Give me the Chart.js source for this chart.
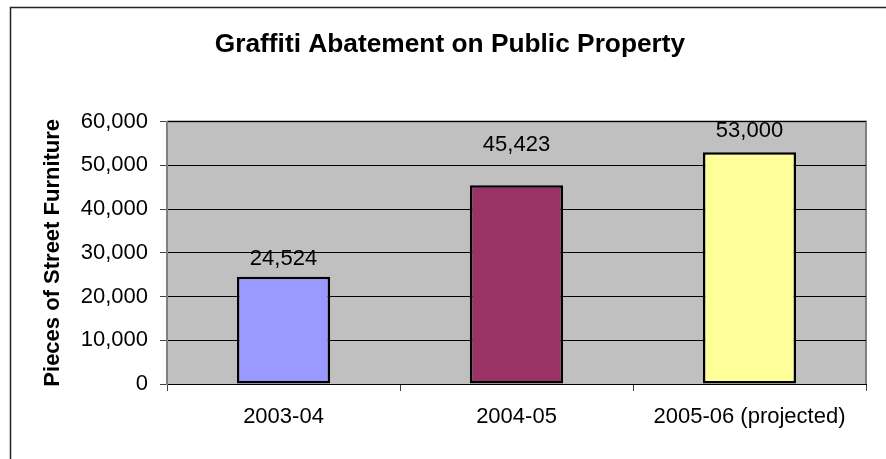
<!DOCTYPE html>
<html>
<head>
<meta charset="utf-8">
<script src="https://cdn.jsdelivr.net/npm/chart.js@4.4.1/dist/chart.umd.min.js"></script>
<style>
  body { margin: 0; background: #fff; }
  canvas { display: block; }
</style>
</head>
<body>
<canvas id="myChart" width="886" height="459"></canvas>
<script>
var years = ['2003-04', '2004-05', '2005-06 (projected)'];
var pieces = [24524, 45423, 53000];
var barColors = ['#9999FF', '#993366', '#FFFF99'];

var FONT = "'Liberation Sans', Arial, sans-serif";
Chart.defaults.color = '#000';
Chart.defaults.font.family = FONT;

function fmt(v) {
  return v.toLocaleString('en-US');
}

// grey plot area, outer frame and the plot's top/right edges
var frame = {
  id: 'frame',
  beforeDraw: function(chart) {
    var c = chart.ctx, a = chart.chartArea;
    c.save();
    c.fillStyle = '#C0C0C0';
    c.fillRect(a.left, a.top, a.right - a.left, a.bottom - a.top);
    c.strokeStyle = '#222';
    c.lineWidth = 1.5;
    c.beginPath();
    c.moveTo(10.5, chart.height + 5);
    c.lineTo(10.5, 7.5);
    c.lineTo(chart.width + 5, 7.5);
    c.stroke();
    c.strokeStyle = '#808080';
    c.lineWidth = 2;
    c.beginPath();
    c.moveTo(a.left, a.top);
    c.lineTo(a.right, a.top);
    c.lineTo(a.right, a.bottom);
    c.stroke();
    c.restore();
  }
};

// value labels above each bar (Excel placed them a bit unevenly)
var lift = [18, 40, 21];
var valueLabels = {
  id: 'valueLabels',
  afterDatasetsDraw: function(chart) {
    var c = chart.ctx;
    var meta = chart.getDatasetMeta(0);
    c.save();
    c.font = '22px ' + FONT;
    c.fillStyle = '#000';
    c.textAlign = 'center';
    c.textBaseline = 'middle';
    meta.data.forEach(function(bar, i) {
      c.fillText(fmt(pieces[i]), bar.x, bar.y - lift[i]);
    });
    c.restore();
  }
};

var ctx = document.getElementById('myChart').getContext('2d');
var myChart = new Chart(ctx, {
  type: 'bar',
  data: {
    labels: years,
    datasets: [{
      data: pieces,
      backgroundColor: barColors,
      borderColor: '#000',
      borderWidth: 2.5,
      borderSkipped: false,
      barPercentage: 0.4,
      categoryPercentage: 1
    }]
  },
  options: {
    responsive: false,
    animation: false,
    layout: { padding: { left: 34, right: 20, top: 0, bottom: 0 } },
    scales: {
      x: {
        offset: true,
        grid: {
          offset: true,
          drawOnChartArea: false,
          tickLength: 7,
          tickColor: '#404040'
        },
        border: { color: '#000', width: 1 },
        ticks: { font: { size: 22 }, padding: 13, maxRotation: 0 },
        afterFit: function(s) { s.height = 75; }
      },
      y: {
        min: 0,
        max: 60000,
        ticks: {
          stepSize: 10000,
          font: { size: 22 },
          padding: 12,
          callback: function(v) { return fmt(v); }
        },
        grid: { color: '#000', lineWidth: 1, tickLength: 7, tickColor: '#404040' },
        border: { color: '#808080', width: 2 },
        title: {
          display: true,
          text: 'Pieces of Street Furniture',
          font: { size: 22, weight: 'bold' },
          padding: { top: 6, bottom: 0 }
        },
        afterFit: function(s) { s.width = 133; }
      }
    },
    plugins: {
      legend: { display: false },
      tooltip: { enabled: false },
      title: {
        display: true,
        text: 'Graffiti Abatement on Public Property',
        font: { size: 26.3, weight: 'bold' },
        padding: { top: 29, bottom: 61 }
      }
    }
  },
  plugins: [frame, valueLabels]
});
</script>
</body>
</html>
